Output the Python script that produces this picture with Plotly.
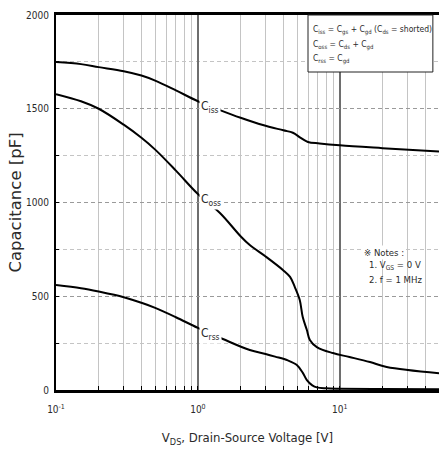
import plotly.graph_objects as go

# Drain-source voltage sample points [V] and capacitances [pF]
v_iss = [0.1, 0.15, 0.2, 0.3, 0.4, 0.5, 0.7, 1.0, 1.43, 2.0, 2.87, 4.0, 4.67, 5.3, 5.96, 7.2,
         10, 20, 50]
c_iss = [1749, 1738, 1722, 1700, 1677, 1650, 1598, 1540, 1493, 1452, 1413, 1385, 1372, 1345,
         1323, 1315, 1305, 1290, 1272]

v_oss = [0.1, 0.15, 0.2, 0.3, 0.4, 0.5, 0.7, 1.0, 1.43, 2.0, 2.32, 3.0, 3.97, 4.46, 4.82, 5.22,
         5.48, 5.86, 6.15, 6.89, 8.94, 11.7, 16.3, 21.4, 50]
c_oss = [1578, 1540, 1500, 1415, 1345, 1282, 1170, 1045, 944, 820, 773, 712, 640, 603, 549, 480,
         389, 320, 267, 229, 197, 176, 149, 123, 90]

v_rss = [0.1, 0.15, 0.2, 0.3, 0.4, 0.5, 0.7, 1.0, 1.5, 2.32, 3.0, 3.5, 4.3, 4.98, 5.5, 5.86,
         6.4, 6.9, 8, 10, 20, 50]
c_rss = [560, 543, 525, 495, 465, 438, 388, 331, 272, 213, 192, 178, 158, 133, 90, 53,
         25, 14, 9, 7, 5, 4]

x_tick_vals = [0.1, 1, 10]
x_tick_text = ["10<sup>-1</sup>", "10<sup>0</sup>", "10<sup>1</sup>"]
y_tick_vals = [0, 500, 1000, 1500, 2000]

definitions = [
    "C<sub>iss</sub> = C<sub>gs</sub> + C<sub>gd</sub> (C<sub>ds</sub> = shorted)",
    "C<sub>oss</sub> = C<sub>ds</sub> + C<sub>gd</sub>",
    "C<sub>rss</sub> = C<sub>gd</sub>",
]
notes = ["※ Notes :", "1. V<sub>GS</sub> = 0 V", "2. f = 1 MHz"]

series = [
    ("C<sub>iss</sub>", v_iss, c_iss),
    ("C<sub>oss</sub>", v_oss, c_oss),
    ("C<sub>rss</sub>", v_rss, c_rss),
]

FONT = "Liberation Sans Narrow, DejaVu Sans Condensed, Arial Narrow, sans-serif"
WIDE_FONT = "DejaVu Sans, Liberation Sans, sans-serif"
TEXT = "#2a2a2a"

fig = go.Figure()
for name, v, c in series:
    fig.add_trace(go.Scatter(
        x=v, y=c, mode="lines", name=name,
        line=dict(color="black", width=2, shape="spline", smoothing=1.0),
        showlegend=False, hoverinfo="skip",
    ))

# Curve labels sit just right of the 1 V gridline, on each curve
for name, v, c in series:
    i = v.index(1.0)
    fig.add_annotation(
        x=0, y=c[i], xref="x", yref="y", text=name, showarrow=False,
        xanchor="left", yanchor="top", xshift=1, yshift=4,
        bgcolor="white", borderpad=1,
        font=dict(family=FONT, size=12, color=TEXT),
    )

# Capacitance definitions box in the top-right corner
fig.add_shape(
    type="rect", xref="paper", yref="paper", x0=0.658, x1=0.984, y0=0.848, y1=1.0,
    line=dict(color="#222", width=1), fillcolor="white", layer="above",
)
for k, line in enumerate(definitions):
    fig.add_annotation(
        xref="paper", yref="paper", x=0.667, y=0.96 - k * 0.039,
        xanchor="left", yanchor="middle", text=line, showarrow=False,
        font=dict(family=FONT, size=8.5, color=TEXT),
    )

# Test conditions
for k, line in enumerate(notes):
    fig.add_annotation(
        xref="paper", yref="paper", x=0.798 if k == 0 else 0.812, y=0.367 - k * 0.036,
        xanchor="left", yanchor="middle", text=line, showarrow=False,
        bgcolor="white" if k == 0 else None,
        font=dict(family=FONT, size=9.5, color=TEXT),
    )

fig.update_xaxes(
    type="log", range=[-1, 1.699],
    tickmode="array", tickvals=x_tick_vals, ticktext=x_tick_text,
    ticks="inside", ticklen=4, tickcolor="black",
    showline=True, linewidth=2.5, linecolor="black", mirror=True,
    showgrid=True, gridcolor="#6e6e6e", gridwidth=1.5,
    minor=dict(dtick="D1", ticks="inside", ticklen=4, tickcolor="black",
               showgrid=True, gridcolor="#c4c4c4", gridwidth=1),
    tickfont=dict(family=FONT, size=10, color=TEXT),
    ticklabelstandoff=8,
    title=dict(text="V<sub>DS</sub>, Drain-Source Voltage [V]", standoff=20,
               font=dict(family=FONT, size=13, color=TEXT)),
    zeroline=False,
)
fig.update_yaxes(
    range=[0, 2000], tickmode="array", tickvals=y_tick_vals,
    ticks="inside", ticklen=3, tickcolor="black",
    showline=True, linewidth=2, linecolor="black",
    showgrid=True, gridcolor="#9a9a9a", gridwidth=1, griddash="4px,3px",
    minor=dict(dtick=250, ticks="inside", ticklen=3, tickcolor="black",
               showgrid=True, gridcolor="#c4c4c4", gridwidth=1),
    tickfont=dict(family=FONT, size=10, color=TEXT),
    ticklabelstandoff=3,
    title=dict(text="Capacitance [pF]", standoff=0,
               font=dict(family=WIDE_FONT, size=16.5, color=TEXT)),
    zeroline=False,
)

fig.update_layout(
    width=439, height=454,
    margin=dict(l=56, r=0, t=15, b=64),
    paper_bgcolor="white", plot_bgcolor="white",
)

fig.write_html("out.html")
